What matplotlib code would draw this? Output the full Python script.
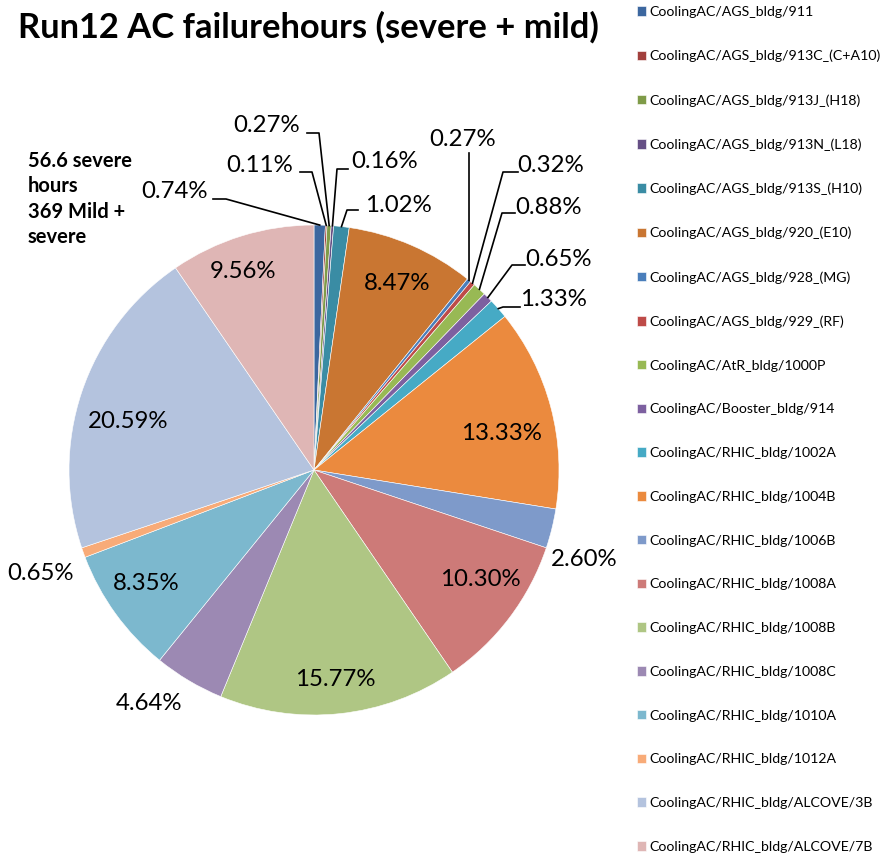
#Run12 AC failure hours pie chart
import numpy as np
import matplotlib
matplotlib.use("Agg")
import matplotlib.pyplot as plt

plt.rcParams['font.family'] = ['Lato', 'DejaVu Sans']

buildings = ["CoolingAC/AGS_bldg/911", "CoolingAC/AGS_bldg/913C_(C+A10)",
             "CoolingAC/AGS_bldg/913J_(H18)", "CoolingAC/AGS_bldg/913N_(L18)",
             "CoolingAC/AGS_bldg/913S_(H10)", "CoolingAC/AGS_bldg/920_(E10)",
             "CoolingAC/AGS_bldg/928_(MG)", "CoolingAC/AGS_bldg/929_(RF)",
             "CoolingAC/AtR_bldg/1000P", "CoolingAC/Booster_bldg/914",
             "CoolingAC/RHIC_bldg/1002A", "CoolingAC/RHIC_bldg/1004B",
             "CoolingAC/RHIC_bldg/1006B", "CoolingAC/RHIC_bldg/1008A",
             "CoolingAC/RHIC_bldg/1008B", "CoolingAC/RHIC_bldg/1008C",
             "CoolingAC/RHIC_bldg/1010A", "CoolingAC/RHIC_bldg/1012A",
             "CoolingAC/RHIC_bldg/ALCOVE/3B", "CoolingAC/RHIC_bldg/ALCOVE/7B"]
percents = [0.74, 0.11, 0.27, 0.16, 1.02, 8.47, 0.27, 0.32, 0.88, 0.65,
            1.33, 13.33, 2.60, 10.30, 15.77, 4.64, 8.35, 0.65, 20.59, 9.56]
colors = ["#3C679F", "#A2403D", "#7F9B48", "#654F85", "#3A8CA4", "#C97632",
          "#4A7EBB", "#BE4B48", "#98B954", "#7D60A0", "#46AAC5", "#EB8A3E",
          "#7E9ACA", "#CD7A78", "#AFC684", "#9C89B3", "#7CB8CE", "#F8AB78",
          "#B4C3DE", "#DFB6B5"]
note = "56.6 severe\nhours\n369 Mild +\nsevere"
title = "Run12 AC failurehours (severe + mild)"

W, H = 885, 861
cx, cy, R = 314, 470, 245   # pie centre/radius in image pixels

fig = plt.figure(figsize=(W / 100, H / 100), dpi=100)
ax = fig.add_axes([0, 0, 1, 1])
wedges, _ = ax.pie(percents, colors=colors, startangle=90, counterclock=False,
                   center=(cx, H - cy), radius=R,
                   wedgeprops=dict(edgecolor="white", linewidth=0.4))
ax.set_xlim(0, W)
ax.set_ylim(0, H)
ax.set_aspect("equal")
ax.axis("off")

# label centres (image px) for slices without leader lines
label_pos = {5: (397, 284), 11: (501, 433), 12: (584, 559), 13: (480, 580),
             14: (335, 680), 15: (149, 704), 16: (146, 584), 17: (41, 574),
             18: (128, 421), 19: (243, 271)}
# leader = (text x, text y, elbow start x, elbow end x, elbow y) in image px
leaders = {
    0: (174, 191, 213, 226, 199),
    1: (260, 166, 300, 312, 172),
    2: (267, 126, 307, 319, 133),
    3: (385, 162, 348, 337, 169),
    4: (398, 205, 358, 347, 210),
    6: (463, 140, 469, 469, 153),
    7: (551, 165, 518, 503, 172),
    8: (549, 207, 515, 502, 213),
    9: (559, 259, 525, 512, 265),
    10: (553, 300, 520, 503, 307),
}
fs = 17.3

for i, w in enumerate(wedges):
    mid = np.deg2rad((w.theta1 + w.theta2) / 2)
    txt = f"{percents[i]:.2f}%"
    if i in leaders:
        tx, ty, x1, x2, ly = leaders[i]
        ex = cx + R * np.cos(mid)
        ey = cy - R * np.sin(mid)
        ax.plot([x1, x2, ex], [H - ly, H - ly, H - ey], color="black", lw=1.2)
    else:
        tx, ty = label_pos[i]
    ax.text(tx, H - ty, txt, ha="center", va="center", fontsize=fs)

fig.text(18 / W, 1 - 27 / H, title, ha="left", va="center",
         fontsize=24.8, weight="bold")
fig.text(28 / W, 1 - 151 / H, note, ha="left", va="top",
         fontsize=14.5, weight="bold", linespacing=1.33)

fig.legend(wedges, buildings, loc="upper left", bbox_to_anchor=(637 / W, 1 - 6 / H),
           frameon=False, fontsize=10.2, labelspacing=2.24, handlelength=0.65,
           handleheight=0.65, handletextpad=0.25, borderaxespad=0, borderpad=0)

fig.savefig("out.png", dpi=100)
